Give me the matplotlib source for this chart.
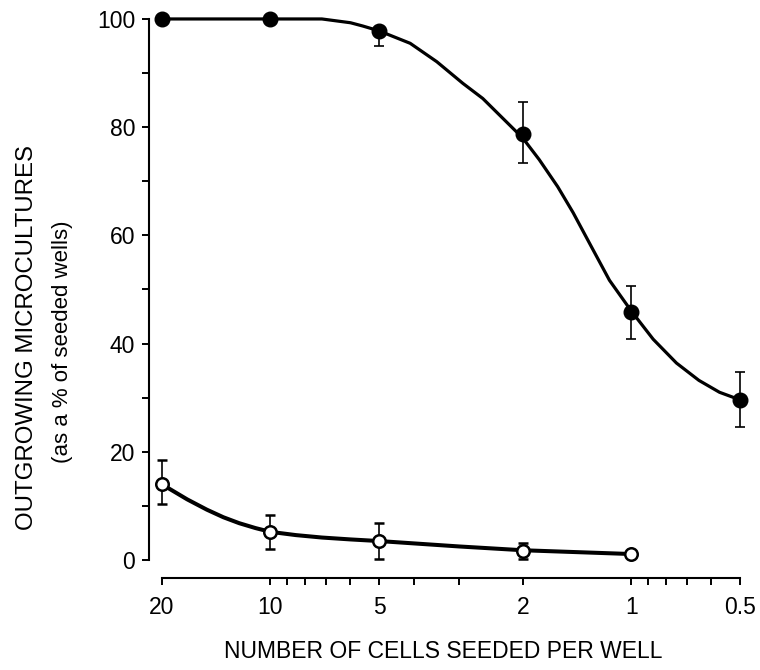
import numpy as np
import matplotlib.pyplot as plt
from matplotlib.ticker import FixedLocator, NullFormatter

plt.rcParams['font.family'] = ['Liberation Sans', 'DejaVu Sans']

# cells seeded per well
cells = [20, 10, 5, 2, 1, 0.5]
# filled circles (% outgrowing) and error bars (lower, upper)
filled = [100, 100, 97.8, 78.7, 45.8, 29.6]
filled_lo = [0, 0, 2.8, 5.3, 4.9, 5.1]
filled_hi = [0, 0, 0, 6.0, 4.8, 5.1]

# open circles
cells_open = [20, 10, 5, 2, 1]
opened = [14.0, 5.2, 3.5, 1.7, 1.1]
opened_lo = [3.6, 3.1, 3.3, 1.5, 0]
opened_hi = [4.4, 3.1, 3.3, 1.5, 0]

# fitted curves
fit_x = [20, 10, 7.2, 6.0, 5.55, 5.0, 4.1, 3.46, 2.93, 2.58, 2.34, 2.0, 1.8,
         1.6, 1.45, 1.3, 1.15, 1.0, 0.87, 0.75, 0.65, 0.57, 0.5]
fit_y = [100, 100, 100, 99.3, 98.7, 97.8, 95.5, 92.1, 88.1, 85.3, 82.5, 78.0, 74.0,
         69.0, 64.2, 58.3, 51.7, 46.0, 40.8, 36.4, 33.2, 31.0, 29.6]
fit2_x = [20, 17, 15, 13.5, 12.2, 11, 10, 8.5, 7.2, 6, 5, 3, 2, 1]
fit2_y = [14.0, 11.2, 9.3, 7.9, 6.8, 5.9, 5.2, 4.6, 4.15, 3.8, 3.5, 2.5, 1.8, 1.1]

xticks = [20, 10, 5, 2, 1, 0.5]
xlabels = ['20', '10', '5', '2', '1', '0.5']
xminor = [9, 8, 7, 6, 4, 3, 0.9, 0.8, 0.7, 0.6]

fig = plt.figure(figsize=(7.6, 6.7), dpi=100)
ax = fig.add_axes([0.196, 0.1642, 0.784, 0.8075])

ax.plot(fit_x, fit_y, color='black', lw=2.3, clip_on=False, zorder=2,
        solid_joinstyle='round')
ax.plot(fit2_x, fit2_y, color='black', lw=2.9, clip_on=False, zorder=2,
        solid_joinstyle='round')

ax.errorbar(cells, filled, yerr=[filled_lo, filled_hi], fmt='o', color='black',
            ms=10.5, ecolor='black', elinewidth=1.2, capsize=3.8, capthick=1.2,
            clip_on=False, zorder=3)
ax.errorbar(cells_open, opened, yerr=[opened_lo, opened_hi], fmt='o', mfc='white',
            mec='black', mew=1.8, ms=9, ecolor='black', elinewidth=1.2,
            capsize=3.8, capthick=1.2, clip_on=False, zorder=3)

ax.set_xscale('log')
ax.set_xlim(21.7, 0.485)
ax.set_ylim(0, 100)

ax.xaxis.set_major_locator(FixedLocator(xticks))
ax.set_xticklabels(xlabels)
ax.xaxis.set_minor_locator(FixedLocator(xminor))
ax.xaxis.set_minor_formatter(NullFormatter())
ax.set_yticks([0, 20, 40, 60, 80, 100])
ax.set_yticks([10, 30, 50, 70, 90], minor=True)

for s in ['top', 'right']:
    ax.spines[s].set_visible(False)
ax.spines['bottom'].set_position(('outward', 13))
ax.spines['bottom'].set_bounds(0.5, 20)
ax.spines['left'].set_linewidth(1.5)
ax.spines['bottom'].set_linewidth(1.5)

ax.tick_params(which='both', direction='out', width=1.4, labelsize=16.5)
ax.tick_params(which='major', length=5)
ax.tick_params(which='minor', length=5)
ax.tick_params(axis='x', pad=8)
ax.tick_params(axis='y', pad=5)

fig.text(0.036, 0.497, 'OUTGROWING MICROCULTURES', rotation=90,
         ha='center', va='center', fontsize=17.3)
fig.text(0.082, 0.49, '(as a % of seeded wells)', rotation=90,
         ha='center', va='center', fontsize=16)
fig.text(0.583, 0.027, 'NUMBER OF CELLS SEEDED PER WELL',
         ha='center', va='center', fontsize=16.5)

fig.savefig('out.png', dpi=100)
